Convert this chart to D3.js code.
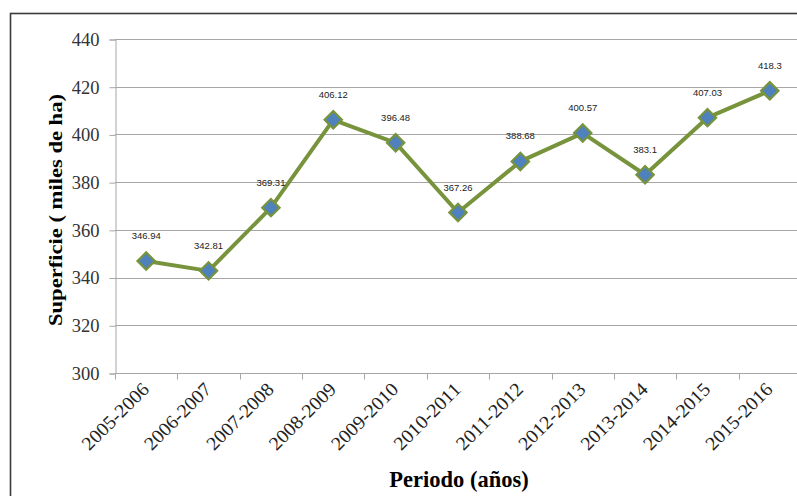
<!DOCTYPE html>
<html>
<head>
<meta charset="utf-8">
<script src="https://cdn.jsdelivr.net/npm/d3@7"></script>
<style>
    body { margin: 0; background: #ffffff; }
    svg { display: block; }
</style>
</head>
<body>
<svg id="chart"></svg>
<script>
var periods = ["2005-2006", "2006-2007", "2007-2008", "2008-2009", "2009-2010", "2010-2011",
    "2011-2012", "2012-2013", "2013-2014", "2014-2015", "2015-2016"];
var superficie = [346.94, 342.81, 369.31, 406.12, 396.48, 367.26, 388.68, 400.57, 383.1, 407.03, 418.3];
var superficieLabels = ["346.94", "342.81", "369.31", "406.12", "396.48", "367.26",
    "388.68", "400.57", "383.1", "407.03", "418.3"];
var yTicks = [300, 320, 340, 360, 380, 400, 420, 440];

var params = {
    width: 797,
    height: 496,
    left: 115,
    right: 801,
    top: 39,
    bottom: 373,
    gridColor: "#a6a6a6",
    lineColor: "#77933c",
    markerFill: "#4f81bd",
    tickFont: "'Liberation Serif', 'Times New Roman', serif",
    labelFont: "'Liberation Sans', Arial, sans-serif"
};

var svg = d3.select("#chart")
    .attr("width", params.width)
    .attr("height", params.height);

// outer frame of the chart (runs past the right and bottom edges)
svg.append("rect")
    .attr("x", 10.5).attr("y", 13.5)
    .attr("width", 820).attr("height", 520)
    .attr("fill", "#ffffff")
    .attr("stroke", "#3a3a3a")
    .attr("stroke-width", 1.6);

var x = d3.scaleBand()
    .domain(periods)
    .range([params.left, params.right]);

var y = d3.scaleLinear()
    .domain([300, 440])
    .range([params.bottom, params.top]);

// horizontal grid
svg.append("g")
    .selectAll("line")
    .data(yTicks.slice(1))
    .enter().append("line")
    .attr("x1", params.left).attr("x2", params.right)
    .attr("y1", function(d) { return Math.round(y(d)) + 0.5; })
    .attr("y2", function(d) { return Math.round(y(d)) + 0.5; })
    .attr("stroke", params.gridColor)
    .attr("stroke-width", 1);

// y axis
var yAxis = svg.append("g")
    .attr("transform", "translate(" + (params.left + 0.5) + ",0.5)")
    .call(d3.axisLeft(y).tickValues(yTicks).tickSize(6).tickPadding(10).tickFormat(d3.format("d")));
yAxis.select(".domain").attr("stroke", params.gridColor);
yAxis.selectAll(".tick line").attr("stroke", params.gridColor);
yAxis.selectAll("text")
    .attr("font-family", params.tickFont)
    .attr("font-size", 18.5)
    .attr("fill", "#333333");

// x axis, ticks sit on the band boundaries
var xAxisG = svg.append("g")
    .attr("transform", "translate(0," + (Math.round(y(300)) + 0.5) + ")");
xAxisG.append("line")
    .attr("x1", params.left).attr("x2", params.right)
    .attr("stroke", params.gridColor);
xAxisG.selectAll("line.tick")
    .data(periods)
    .enter().append("line")
    .attr("class", "tick")
    .attr("x1", function(d) { return Math.round(x(d)) + 0.5; })
    .attr("x2", function(d) { return Math.round(x(d)) + 0.5; })
    .attr("y1", 0).attr("y2", 6)
    .attr("stroke", params.gridColor);
xAxisG.selectAll("text")
    .data(periods)
    .enter().append("text")
    .attr("transform", function(d) {
        return "translate(" + (x(d) + x.bandwidth() / 2 + 4) + ",17) rotate(-45)";
    })
    .attr("text-anchor", "end")
    .attr("font-family", params.tickFont)
    .attr("font-size", 19)
    .attr("textLength", 86)
    .attr("lengthAdjust", "spacingAndGlyphs")
    .attr("fill", "#222222")
    .text(function(d) { return d; });

// axis titles
svg.append("text")
    .attr("transform", "translate(62,210) rotate(-90)")
    .attr("text-anchor", "middle")
    .attr("font-family", params.tickFont)
    .attr("font-weight", "bold")
    .attr("font-size", 19)
    .attr("textLength", 232)
    .attr("lengthAdjust", "spacingAndGlyphs")
    .text("Superficie ( miles de ha)");

svg.append("text")
    .attr("x", 459).attr("y", 487)
    .attr("text-anchor", "middle")
    .attr("font-family", params.tickFont)
    .attr("font-weight", "bold")
    .attr("font-size", 22.5)
    .text("Periodo (años)");

// the series
var cx = function(d, i) { return x(periods[i]) + x.bandwidth() / 2; };
var line = d3.line()
    .x(function(d, i) { return cx(d, i); })
    .y(function(d) { return y(d); });

svg.append("path")
    .datum(superficie)
    .attr("d", line)
    .attr("fill", "none")
    .attr("stroke", params.lineColor)
    .attr("stroke-width", 4)
    .attr("stroke-linejoin", "round");

svg.append("g")
    .selectAll("path")
    .data(superficie)
    .enter().append("path")
    .attr("d", d3.symbol().type(d3.symbolSquare).size(150))
    .attr("transform", function(d, i) {
        return "translate(" + cx(d, i) + "," + y(d) + ") rotate(45)";
    })
    .attr("fill", params.markerFill)
    .attr("stroke", params.lineColor)
    .attr("stroke-width", 2.2);

svg.append("g")
    .selectAll("text")
    .data(superficie)
    .enter().append("text")
    .attr("x", function(d, i) { return cx(d, i); })
    .attr("y", function(d) { return y(d) - 22; })
    .attr("text-anchor", "middle")
    .attr("font-family", params.labelFont)
    .attr("font-size", 9.5)
    .attr("fill", "#222222")
    .text(function(d, i) { return superficieLabels[i]; });
</script>
</body>
</html>
